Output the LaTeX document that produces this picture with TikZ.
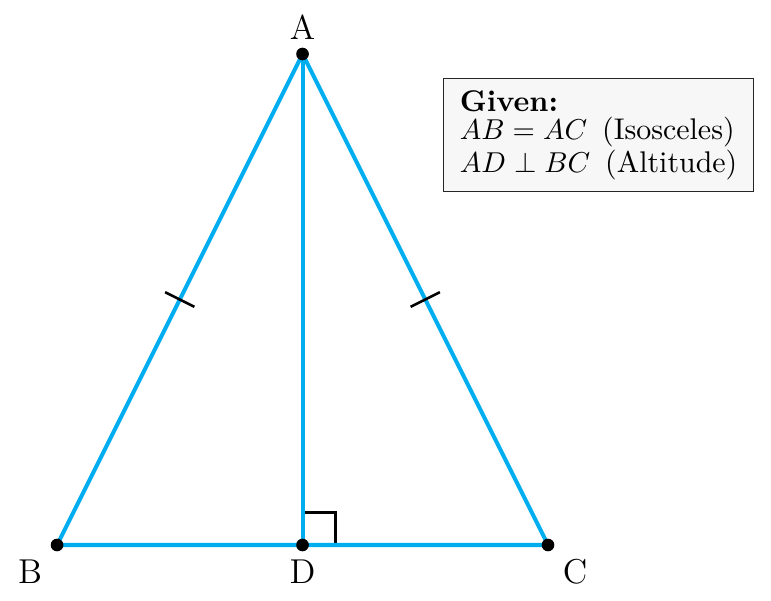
\documentclass[tikz,border=0pt]{standalone}
\usepackage{amsmath,amssymb}
\usepackage{xcolor}
\usepackage{tikz}
\usetikzlibrary{calc,positioning}
\definecolor{sideblue}{RGB}{0,174,239}
\tikzstyle{side} = [sideblue,line width=1.4pt]
\tikzstyle{tick} = [line width=0.9pt,black]
\tikzstyle{vertex} = [fill=black]
\tikzstyle{givenbox} = [draw=black!85,fill=black!3,line width=0.5pt,align=left,inner xsep=5.6pt,inner ysep=4pt,font=\fontsize{10.4}{10}\selectfont]

\begin{document}
\begin{tikzpicture}
			\useasboundingbox (-0.697,-0.684) rectangle (8.725,6.660);
			% Vertices:
			\coordinate (B) at (0,0);
			\coordinate (C) at (6,0);
			\coordinate (A) at (3,6);
			\coordinate (D) at (3,0);
			
			% Right angle at the foot of the altitude:
			\draw[line width=0.9pt] ($(D)+(0,0.4)$) -- ++(0.4,0) -- ++(0,-0.4);
			
			% Triangle and altitude:
			\draw[side] (B) -- (C) -- (A) -- cycle;
			\draw[side] (A) -- (D);
			
			% Equal sides marks:
			\coordinate (mAB) at ($(A)!0.5!(B)$);
			\coordinate (mAC) at ($(A)!0.5!(C)$);
			\draw[tick] ($(mAB)!0.2cm!90:(A)$) -- ($(mAB)!0.2cm!-90:(A)$);
			\draw[tick] ($(mAC)!0.2cm!90:(A)$) -- ($(mAC)!0.2cm!-90:(A)$);
			
			% Points and labels:
			\foreach \p in {A,B,C,D}
				\fill[vertex] (\p) circle [radius=2.2pt];
			\node[font=\large] (labA) at (3,6.33) {A};
			\node[font=\large] (labB) at (-0.33,-0.33) {B};
			\node[font=\large] (labD) at (3,-0.33) {D};
			\node[font=\large] (labC) at (6.33,-0.33) {C};
			
			% Given data:
			\node[givenbox,anchor=north west] (given) at (4.717,5.707)
				{\textbf{Given:}\\ $AB = AC$\enspace(Isosceles)\\ $AD \perp BC$\enspace(Altitude)};
			\end{tikzpicture}
\end{document}
